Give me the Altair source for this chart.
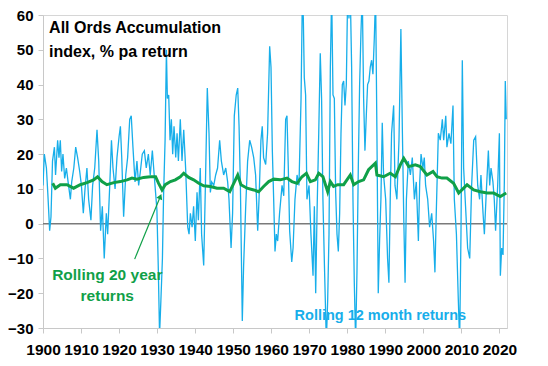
import altair as alt
import pandas as pd

# Rolling 12 month returns (% pa)
blue_years = [1900.0, 1900.35, 1900.9, 1901.3, 1901.75, 1902.1, 1902.5, 1903.0, 1903.3, 1903.85,
              1904.2, 1904.55, 1904.9, 1905.25, 1905.7, 1906.15, 1906.6, 1907.2, 1907.55, 1908.1,
              1908.6, 1909.1, 1909.65, 1910.1, 1910.6, 1911.05, 1911.55, 1912.0, 1912.6, 1913.05,
              1913.6, 1914.2, 1914.65, 1915.15, 1915.6, 1916.1, 1916.65, 1917.0, 1917.55, 1918.0,
              1918.4, 1918.95, 1919.45, 1920.0, 1920.35, 1920.7, 1921.2, 1921.75, 1922.25, 1922.8,
              1923.2, 1923.65, 1924.2, 1924.7, 1925.15, 1925.6, 1926.1, 1926.65, 1927.15, 1927.7,
              1928.2, 1928.75, 1929.1, 1929.45, 1929.95, 1930.3, 1930.65, 1931.0, 1931.4, 1931.7,
              1932.1, 1932.45, 1932.7, 1933.05, 1933.4, 1933.75, 1934.1, 1934.45, 1934.9, 1935.25,
              1935.6, 1936.1, 1936.55, 1937.0, 1937.5, 1938.05, 1938.4, 1938.75, 1939.2, 1939.6,
              1940.05, 1940.5, 1940.85, 1941.35, 1941.7, 1942.25, 1942.7, 1943.2, 1943.65, 1944.0,
              1944.35, 1944.9, 1945.4, 1945.9, 1946.45, 1946.9, 1947.5, 1948.05, 1948.55, 1948.9,
              1949.45, 1949.85, 1950.3, 1950.8, 1951.2, 1951.55, 1951.9, 1952.4, 1952.75, 1953.3,
              1953.8, 1954.35, 1954.85, 1955.4, 1955.9, 1956.45, 1956.8, 1957.3, 1957.65, 1958.0,
              1958.55, 1959.05, 1959.6, 1959.95, 1960.3, 1960.65, 1961.0, 1961.35, 1961.7, 1962.2,
              1962.85, 1963.3, 1963.8, 1964.15, 1964.5, 1964.85, 1965.4, 1965.75, 1966.25, 1966.8,
              1967.3, 1967.85, 1968.2, 1968.45, 1968.7, 1969.05, 1969.4, 1969.95, 1970.45, 1971.0,
              1971.35, 1971.7, 1972.05, 1972.5, 1972.9, 1973.25, 1973.6, 1974.0, 1974.5, 1974.85,
              1975.2, 1975.55, 1975.9, 1976.25, 1976.6, 1976.95, 1977.3, 1977.65, 1978.0, 1978.35,
              1978.7, 1979.05, 1979.4, 1979.75, 1980.1, 1980.45, 1980.8, 1981.15, 1981.5, 1981.85,
              1982.2, 1982.55, 1982.9, 1983.25, 1983.6, 1983.95, 1984.3, 1984.65, 1985.0, 1985.35,
              1985.7, 1986.05, 1986.4, 1986.75, 1987.1, 1987.45, 1987.8, 1988.15, 1988.5, 1988.85,
              1989.2, 1989.55, 1990.1, 1990.6, 1990.95, 1991.3, 1991.65, 1992.2, 1992.55, 1993.05,
              1993.6, 1994.1, 1994.5, 1994.85, 1995.2, 1995.55, 1996.05, 1996.6, 1997.1, 1997.65,
              1998.15, 1998.7, 1999.05, 1999.4, 1999.9, 2000.25, 2000.6, 2001.15, 2001.65, 2002.2,
              2002.7, 2003.05, 2003.4, 2003.95, 2004.45, 2005.0, 2005.35, 2005.9, 2006.2, 2006.75,
              2007.25, 2007.8, 2008.15, 2008.7, 2009.2, 2009.55, 2009.9, 2010.25, 2010.6, 2011.1,
              2011.65, 2012.2, 2012.7, 2013.25, 2013.75, 2014.3, 2014.8, 2015.15, 2015.7, 2016.05,
              2016.55, 2017.1, 2017.45, 2017.8, 2018.3, 2018.65, 2019.0, 2019.55, 2020.0, 2020.25,
              2020.6, 2020.95, 2021.3, 2021.55, 2021.8]
blue_vals = [11, 20, 16, 8, -2, 2, 18, 22, 14, 24,
             19, 24, 15, 20, 13, 16, 12, 7, 12, 16,
             22, 19, 15, 11, 3, 10, 16, 7, 1, 11,
             16, 27, 18, -2, 5, -10, 3, -3, 11, 24,
             16, 10, 19, 25, 28, 19, 2, 14, 19, 30,
             31, 22, 12, 18, 11, 15, 20, 21, 16, 20,
             14, 21, 16, 11, 4, -12, -32, -22, -10, 8,
             24, 50, 36, 37, 24, 30, 20, 28, 19, 26,
             18, 30, 18, 27, 16, -1, -3, 3, -1, 5,
             -5, 9, 1, 16, -3, -12, 11, 39, 26, 9,
             12, 11, 14, 16, 24, 18, 14, 16, 12, 7,
             -7, 3, 31, 37, 39, 28, 11, -28, -12, 5,
             18, 24, 22, 19, 14, -2, 7, 24, 28, 19,
             17, 26, 51, 45, 21, 7, -8, -3, -5, 3,
             11, 8, 30, 31, 16, -2, -11, -7, 7, 14,
             11, 36, 66, 59, 42, 37, 7, 11, -3, -15,
             5, -20, 3, 26, 49, 36, 7, -12, -34, -22,
             -3, 45, 66, 37, 36, 9, -3, -8, 3, 26,
             40, 41, 34, 40, 66, 59, 66, 45, 7, -17,
             -34, -14, 16, 40, 55, 66, 36, 21, 31, 40,
             41, 45, 47, 43, 53, 66, 26, -20, -5, 7,
             29, 14, 7, -10, -17, 7, 26, 34, 11, 7,
             24, 56, 26, 2, -17, 7, 18, 14, 19, 7,
             12, -5, 12, 20, 16, 19, 11, 7, -1, 3,
             -5, -14, 3, 26, 24, 30, 24, 31, 22, 26,
             23, 34, 7, -3, -22, -34, -3, 47, 16, 5,
             -7, -10, 11, 24, 25, 11, 7, 14, 3, -3,
             9, 21, 11, 16, 12, 7, -2, 11, 26, -15,
             -7, -9, 12, 41, 30]

# Rolling 20 year returns (% pa)
green_years = [1902.55, 1903.25, 1904.55, 1906.3, 1908.05, 1909.8, 1911.55, 1913.3, 1914.35, 1915.5,
               1916.8, 1918.6, 1920.35, 1922.1, 1923.4, 1924.7, 1926.45, 1928.2, 1929.6, 1930.4,
               1931.3, 1932.15, 1933.5, 1934.8, 1936.1, 1937.0, 1938.3, 1939.6, 1940.95, 1942.25,
               1944.0, 1945.75, 1947.5, 1949.1, 1950.15, 1951.2, 1952.05, 1953.65, 1955.4, 1956.7,
               1958.0, 1959.35, 1960.65, 1962.4, 1964.15, 1965.45, 1966.8, 1968.1, 1969.25, 1970.3,
               1971.6, 1972.5, 1973.6, 1974.85, 1975.55, 1976.4, 1977.5, 1979.05, 1980.8, 1981.7,
               1983.0, 1984.3, 1985.6, 1987.4, 1987.8, 1989.55, 1991.3, 1992.65, 1993.95, 1994.85,
               1996.15, 1997.9, 1999.2, 2000.95, 2002.55, 2003.6, 2004.9, 2006.2, 2007.95, 2009.3,
               2010.6, 2011.5, 2013.25, 2015.0, 2016.75, 2018.5, 2020.25, 2021.8]
green_vals = [11.6, 10.2, 11.2, 11.2, 10.2, 11.2, 11.8, 12.6, 13.5, 12.1,
              11.2, 11.8, 12.1, 12.6, 13.1, 12.8, 13.3, 13.5, 13.5, 11.6,
              9.7, 11.2, 12.1, 12.6, 13.5, 14.5, 13.3, 12.6, 11.6, 10.9,
              10.7, 10.2, 10.2, 9.2, 11.6, 14.0, 11.2, 10.2, 9.7, 9.2,
              10.7, 12.1, 12.8, 12.6, 13.1, 12.1, 11.6, 13.5, 14.5, 12.1,
              12.6, 14.5, 13.5, 9.2, 12.1, 10.7, 11.2, 11.2, 14.0, 11.2,
              12.1, 12.6, 15.5, 17.4, 14.0, 13.5, 14.5, 13.5, 16.9, 18.8,
              16.4, 16.9, 16.4, 14.0, 15.0, 13.5, 13.1, 13.1, 11.6, 8.8,
              10.2, 11.2, 9.7, 9.2, 8.8, 8.8, 7.8, 8.8]

x_ticks = list(range(1900, 2021, 10))
y_ticks = list(range(-30, 61, 10))

# annotations (data coordinates)
label_text = ["All Ords Accumulation", "index, % pa return", "Rolling 20 year", "returns",
              "Rolling 12 month returns"]
label_x = [1901.6, 1901.6, 1916.9, 1916.9, 1988.7]
label_y = [56.3, 49.5, -14.8, -20.8, -26.5]
label_kind = ["title", "title", "green", "green", "blue"]
arrow_x = [1924.1, 1930.85]
arrow_y = [-10.2, 7.8]

BLUE = "#17aeea"
GREEN = "#10a048"
FONT = "Liberation Sans"

blue_df = pd.DataFrame({"year": blue_years, "ret": blue_vals})
green_df = pd.DataFrame({"year": green_years, "ret": green_vals})
lab_df = pd.DataFrame({"x": label_x, "y": label_y, "text": label_text, "kind": label_kind})
arr_df = pd.DataFrame({"x": [arrow_x[0]], "y": [arrow_y[0]], "x2": [arrow_x[1]], "y2": [arrow_y[1]]})
head_df = pd.DataFrame({"x": [arrow_x[1]], "y": [arrow_y[1]]})

xscale = alt.Scale(domain=[1900, 2022], nice=False, zero=False)
yscale = alt.Scale(domain=[-30, 60], nice=False)

xaxis = alt.Axis(values=x_ticks, format="d", title=None)
yaxis = alt.Axis(values=y_ticks, title=None)

zero = alt.Chart(pd.DataFrame({"v": [0]})).mark_rule(color="#7a7a7a", strokeWidth=1.5).encode(
    y=alt.Y("v:Q", scale=yscale, axis=yaxis))

blue = alt.Chart(blue_df).mark_line(color=BLUE, strokeWidth=1.3, clip=True).encode(
    x=alt.X("year:Q", scale=xscale, axis=xaxis), y=alt.Y("ret:Q", scale=yscale, axis=yaxis))

green = alt.Chart(green_df).mark_line(color=GREEN, strokeWidth=3, clip=True).encode(
    x=alt.X("year:Q", scale=xscale, axis=xaxis), y=alt.Y("ret:Q", scale=yscale, axis=yaxis))

arrow = alt.Chart(arr_df).mark_rule(color=GREEN, strokeWidth=1.2).encode(
    x=alt.X("x:Q", scale=xscale, axis=xaxis), y=alt.Y("y:Q", scale=yscale, axis=yaxis),
    x2="x2:Q", y2="y2:Q")
head = alt.Chart(head_df).mark_point(shape="triangle-up", filled=True, color=GREEN, size=40,
                                     angle=23, opacity=1).encode(
    x=alt.X("x:Q", scale=xscale, axis=xaxis), y=alt.Y("y:Q", scale=yscale, axis=yaxis))

def txt(kind, align, size, color):
    return alt.Chart(lab_df[lab_df.kind == kind]).mark_text(
        align=align, baseline="middle", font=FONT, fontSize=size, fontWeight="bold",
        color=color).encode(
        x=alt.X("x:Q", scale=xscale, axis=xaxis), y=alt.Y("y:Q", scale=yscale, axis=yaxis),
        text="text:N")

title_txt = txt("title", "left", 16, "black")
green_txt = txt("green", "center", 15.5, GREEN)
blue_txt = txt("blue", "center", 14.5, BLUE)

chart = alt.layer(zero, blue, green, arrow, head, title_txt, green_txt, blue_txt).properties(
    width=464, height=313,
    autosize=alt.AutoSizeParams(type="none"),
    padding={"left": 35, "top": 7, "right": 33, "bottom": 30},
    background="white",
).configure_view(stroke="#d6d6d6", strokeWidth=1
).configure_axis(
    grid=False, labelFont=FONT, labelFontWeight="bold", labelColor="black",
    domainColor="#c8c8c8", tickColor="#c8c8c8", tickSize=5, labelOverlap=False,
    labelFlush=False, labelBound=False,
).configure_axisX(labelFontSize=15.5, labelPadding=9
).configure_axisY(labelFontSize=15, labelPadding=5)

chart.save("out.html", embed_options={"renderer": "svg", "actions": False})
